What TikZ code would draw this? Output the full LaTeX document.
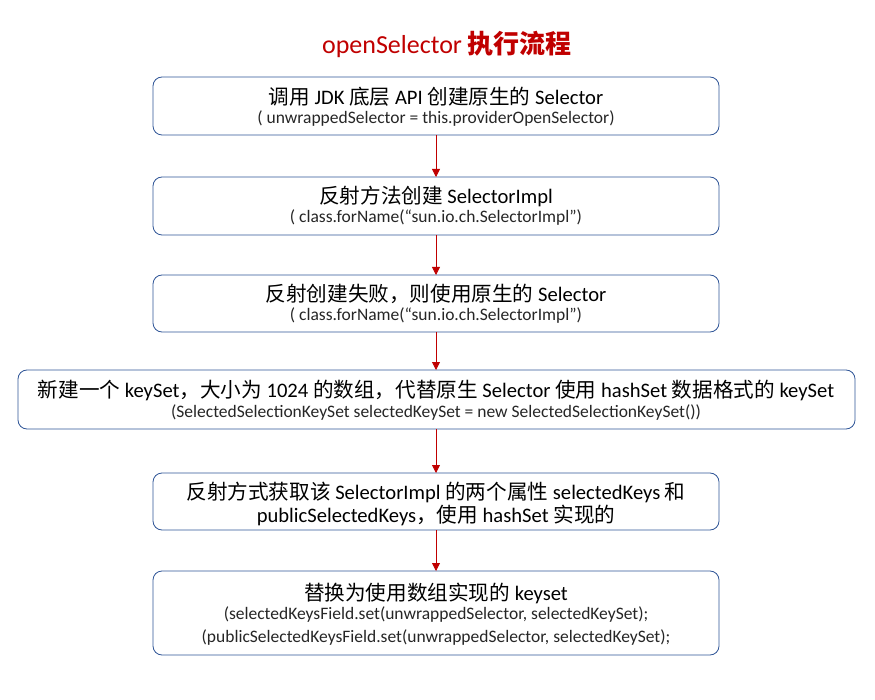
\documentclass[tikz,border=0pt]{standalone}
\usepackage{fontspec}
\setmainfont{Carlito}
\newfontfamily\cjk{Noto Sans CJK SC}
\definecolor{boxblue}{HTML}{2F5597}
\definecolor{darkred}{HTML}{C00000}
\usetikzlibrary{arrows.meta}
\tikzset{
  stepbox/.style={draw=boxblue, line width=0.8pt, rounded corners=9pt, fill=white},
  flow/.style={draw=darkred, line width=0.8pt, -{Triangle[length=8pt,width=8pt]}},
  big/.style={font=\fontsize{20.6}{24}\selectfont, inner sep=0pt},
  small/.style={font=\fontsize{17.5}{20}\selectfont, inner sep=0pt, text=black!85},
}
\newcommand{\C}[1]{{\cjk #1}}
\begin{document}
\begin{tikzpicture}[x=1pt,y=-1pt]
\useasboundingbox (0,0) rectangle (875,700);
\node[font=\fontsize{26}{30}\selectfont, text=darkred] (title) at (447,44) {openSelector \textbf{\C{执行流程}}};

\draw[stepbox] (153,77) rectangle (719,135);
\coordinate (b1t) at (436,77); \coordinate (b1b) at (436,135);
\draw[stepbox] (153,177) rectangle (719,235);
\coordinate (b2t) at (436,177); \coordinate (b2b) at (436,235);
\draw[stepbox] (153,275) rectangle (719,332);
\coordinate (b3t) at (436,275); \coordinate (b3b) at (436,332);
\draw[stepbox] (18,370) rectangle (855,429);
\coordinate (b4t) at (436,370); \coordinate (b4b) at (436,429);
\draw[stepbox] (153,473) rectangle (719,530);
\coordinate (b5t) at (436,473); \coordinate (b5b) at (436,530);
\draw[stepbox] (153,571) rectangle (719,655);
\coordinate (b6t) at (436,571);

\node[big] (t1a) at (436,97) {\C{调用} JDK \C{底层} API \C{创建原生的} Selector};
\node[small] (t1b) at (436,119) {( unwrappedSelector = this.providerOpenSelector)};
\node[big] (t2a) at (436,196) {\C{反射方法创建} SelectorImpl};
\node[small] (t2b) at (436,218) {( class.forName(“sun.io.ch.SelectorImpl”)};
\node[big] (t3a) at (436,294) {\C{反射创建失败，则使用原生的} Selector};
\node[small] (t3b) at (436,316) {( class.forName(“sun.io.ch.SelectorImpl”)};
\node[big] (t4a) at (436,390) {\C{新建一个} keySet\C{，大小为} 1024 \C{的数组，代替原生} Selector \C{使用} hashSet \C{数据格式的} keySet};
\node[small] (t4b) at (436,413) {(SelectedSelectionKeySet selectedKeySet = new SelectedSelectionKeySet())};
\node[big] (t5a) at (436,492) {\C{反射方式获取该} SelectorImpl \C{的两个属性} selectedKeys \C{和}};
\node[big] (t5b) at (436,515) {publicSelectedKeys\C{，使用} hashSet \C{实现的}};
\node[big] (t6a) at (436,593) {\C{替换为使用数组实现的} keyset};
\node[small] (t6b) at (436,615) {(selectedKeysField.set(unwrappedSelector, selectedKeySet);};
\node[small] (t6c) at (436,638) {(publicSelectedKeysField.set(unwrappedSelector, selectedKeySet);};

\draw[flow] (b1b) -- (b2t);
\draw[flow] (b2b) -- (b3t);
\draw[flow] (b3b) -- (b4t);
\draw[flow] (b4b) -- (b5t);
\draw[flow] (b5b) -- (b6t);
\end{tikzpicture}
\end{document}
